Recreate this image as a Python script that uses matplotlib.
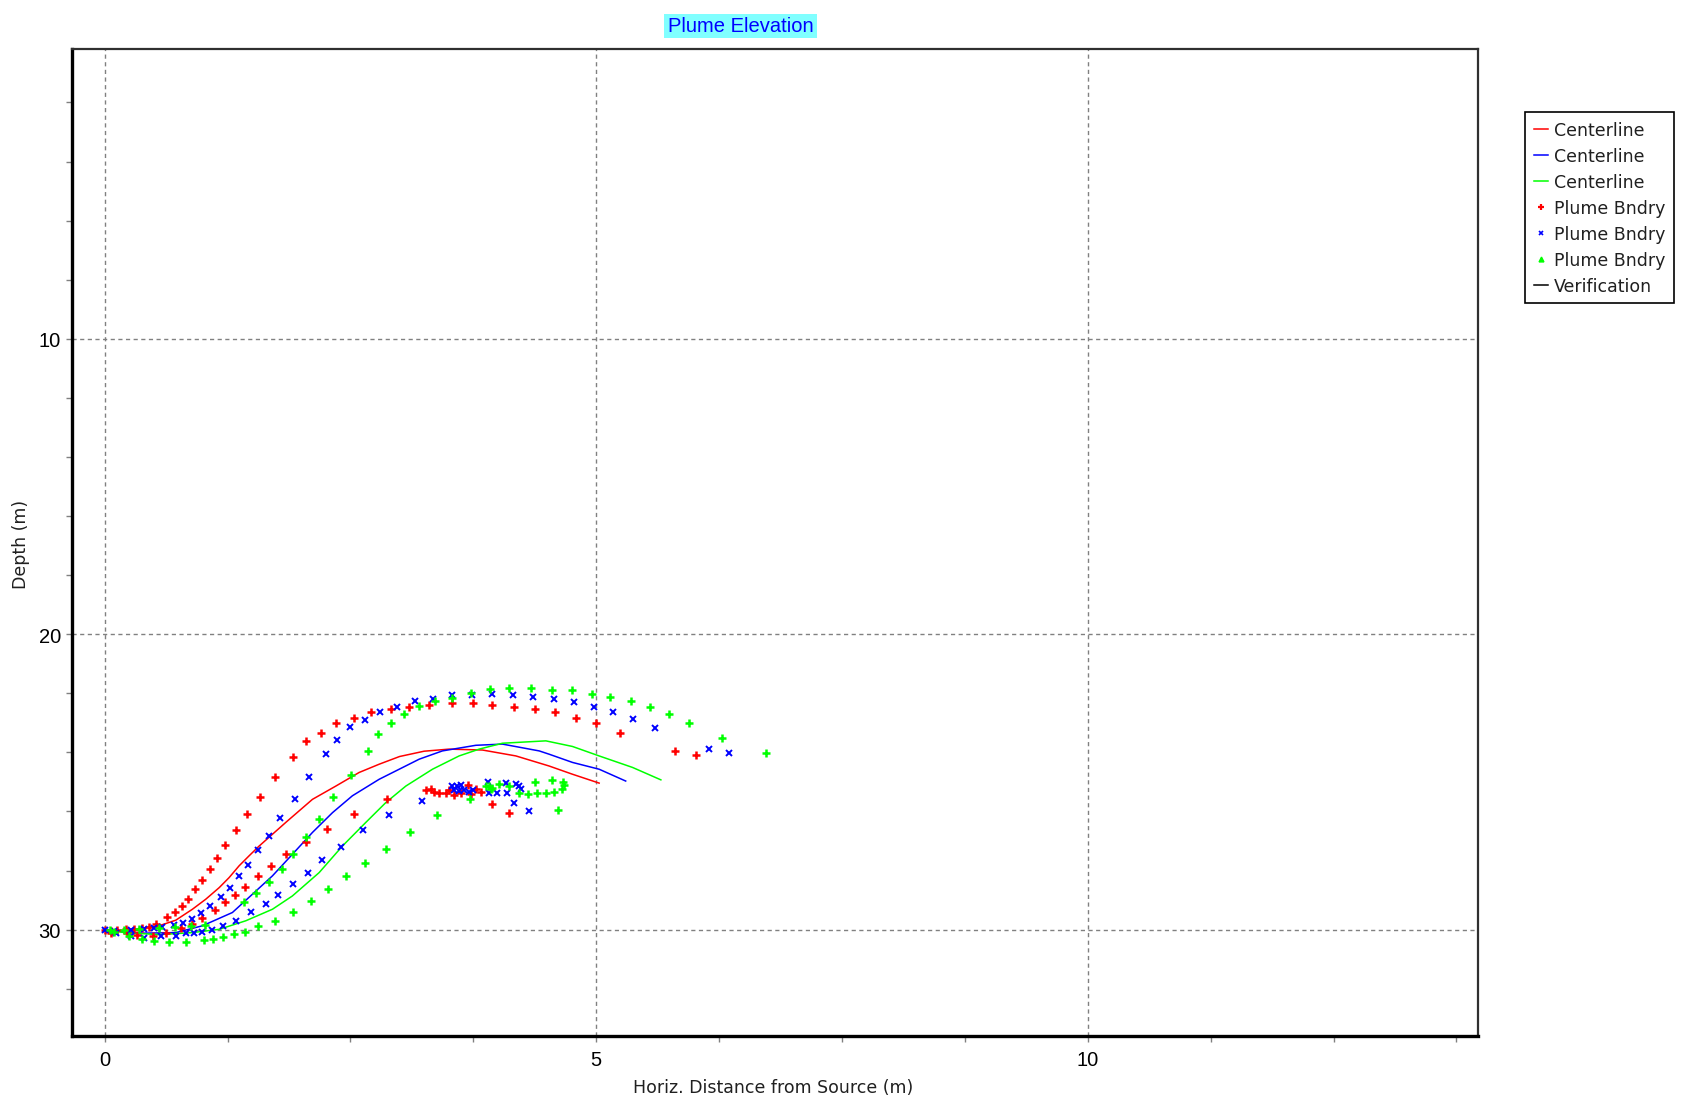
import matplotlib
matplotlib.use("Agg")
import matplotlib.pyplot as plt
from matplotlib.lines import Line2D
from matplotlib.patches import Rectangle
from matplotlib.ticker import MultipleLocator

plt.rcParams['font.family'] = ['DejaVu Sans']
NARROW = ['Liberation Sans Narrow', 'Liberation Sans', 'DejaVu Sans']

# ---- centerlines (horizontal distance m, depth m) ----
red_cl_x = [0.0, 0.15, 0.30, 0.385, 0.554, 0.724, 0.893, 1.029, 1.165, 1.266, 1.368, 1.470,
            1.572, 1.843, 2.114, 2.352, 2.589, 2.793, 3.0, 3.25, 3.504, 3.843, 4.183, 4.52,
            4.759, 5.03]
red_cl_y = [30.0, 30.04, 30.03, 29.96, 29.87, 29.68, 29.31, 28.97, 28.58, 28.24, 27.84, 27.50,
            27.17, 26.37, 25.59, 25.14, 24.68, 24.40, 24.14, 23.96, 23.89, 23.92, 24.12, 24.46,
            24.74, 25.04]

blue_cl_x = [0.0, 0.2, 0.385, 0.724, 0.995, 1.30, 1.504, 1.707, 1.91, 2.114, 2.318, 2.52,
             2.793, 3.2, 3.436, 3.776, 4.047, 4.42, 4.52, 4.759, 5.03, 5.30]
blue_cl_y = [30.0, 30.08, 30.12, 30.10, 29.87, 29.42, 28.80, 28.18, 27.45, 26.71, 26.04, 25.47,
             24.91, 24.23, 23.95, 23.76, 23.72, 23.95, 24.06, 24.34, 24.57, 24.97]

green_cl_x = [0.0, 0.2, 0.554, 0.893, 1.165, 1.436, 1.707, 1.91, 2.182, 2.419, 2.657, 2.86,
              3.064, 3.335, 3.606, 3.81, 4.047, 4.488, 4.759, 5.03, 5.37, 5.658]
green_cl_y = [30.0, 30.1, 30.17, 30.10, 29.99, 29.70, 29.31, 28.86, 28.07, 27.17, 26.37, 25.70,
              25.14, 24.57, 24.12, 23.89, 23.69, 23.61, 23.80, 24.12, 24.51, 24.93]

# ---- plume boundary points ----
red_bd_x = [0.0, 0.06, 0.13, 0.22, 0.30, 0.38, 0.45, 0.52, 0.639, 0.717, 0.792, 0.849, 0.921,
            0.995, 1.073, 1.148, 1.222, 1.334, 1.446, 1.578, 1.731, 1.917, 2.046, 2.199, 2.352,
            2.538, 2.708, 2.911, 3.098, 3.301, 3.532, 3.742, 3.945, 4.166, 4.379, 4.583, 4.793,
            5.0, 5.244, 5.804, 6.014,
            0.06, 0.23, 0.33, 0.49, 0.62, 0.78, 0.89, 0.995, 1.124, 1.222, 1.324, 1.426, 1.561,
            1.694, 1.846, 2.046, 2.257, 2.538, 2.877, 3.945, 4.115,
            3.267, 3.318, 3.352, 3.403, 3.471, 3.505, 3.555, 3.623, 3.701, 3.725, 3.776, 3.827]
red_bd_y = [30.0, 30.04, 30.02, 29.99, 29.99, 29.95, 29.90, 29.82, 29.57, 29.40, 29.20, 28.95, 28.63,
            28.32, 27.96, 27.58, 27.14, 26.64, 26.07, 25.51, 24.82, 24.14, 23.63, 23.33, 23.01,
            22.82, 22.63, 22.52, 22.46, 22.39, 22.33, 22.33, 22.39, 22.46, 22.52, 22.63, 22.82,
            23.01, 23.33, 23.95, 24.08,
            30.10, 30.13, 30.18, 30.21, 30.12, 29.95, 29.80, 29.59, 29.33, 29.08, 28.84, 28.54, 28.20,
            27.83, 27.45, 27.02, 26.58, 26.07, 25.59, 25.75, 26.06,
            25.27, 25.25, 25.34, 25.38, 25.36, 25.27, 25.44, 25.38, 25.11, 25.42, 25.25, 25.34]

blue_bd_x = [0.0, 0.10, 0.266, 0.402, 0.504, 0.588, 0.707, 0.798, 0.887, 0.978, 1.070, 1.182,
             1.277, 1.368, 1.463, 1.558, 1.673, 1.782, 1.934, 2.084, 2.253, 2.365, 2.497, 2.647,
             2.799, 2.969, 3.157, 3.345, 3.532, 3.735, 3.945, 4.154, 4.357, 4.566, 4.773, 4.980,
             5.166, 5.377, 5.600, 6.143, 6.353,
             0.12, 0.266, 0.402, 0.571, 0.724, 0.826, 0.91, 0.995, 1.090, 1.202, 1.334, 1.487,
             1.639, 1.768, 1.917, 2.070, 2.216, 2.406, 2.630, 2.894, 3.233, 4.169, 4.318,
             3.538, 3.589, 3.623, 3.555, 3.606, 3.657, 3.708, 3.742, 3.895, 3.911, 3.996, 4.081,
             4.088, 4.183, 4.217, 4.234]
blue_bd_y = [30.0, 30.03, 30.02, 29.99, 29.95, 29.91, 29.85, 29.76, 29.63, 29.44, 29.20, 28.88,
             28.58, 28.20, 27.82, 27.32, 26.83, 26.21, 25.59, 24.82, 24.06, 23.57, 23.14, 22.89,
             22.63, 22.45, 22.26, 22.20, 22.07, 22.07, 22.01, 22.07, 22.14, 22.20, 22.31, 22.45,
             22.63, 22.88, 23.19, 23.87, 24.01,
             30.10, 30.21, 30.27, 30.23, 30.23, 30.13, 30.10, 30.08, 30.01, 29.87, 29.70, 29.39,
             29.14, 28.84, 28.46, 28.08, 27.64, 27.20, 26.64, 26.13, 25.64, 25.70, 26.00,
             25.13, 25.13, 25.11, 25.27, 25.30, 25.27, 25.34, 25.27, 25.00, 25.36, 25.36, 25.02,
             25.38, 25.08, 25.13, 25.25]

green_bd_x = [0.05, 0.20, 0.35, 0.55, 0.72, 0.88, 1.019, 1.419, 1.538, 1.673, 1.802, 1.921,
              2.046, 2.182, 2.324, 2.504, 2.674, 2.782, 2.914, 3.047, 3.199, 3.365, 3.535, 3.725,
              3.925, 4.115, 4.340, 4.546, 4.752, 4.956, 5.143, 5.359, 5.546, 5.736, 5.939, 6.275,
              6.726,
              0.10, 0.25, 0.38, 0.503, 0.656, 0.826, 1.012, 1.107, 1.205, 1.317, 1.429, 1.561,
              1.731, 1.921, 2.104, 2.277, 2.460, 2.650, 2.860, 3.102, 3.384, 4.607,
              3.713, 3.878, 3.929, 4.007, 4.115, 4.217, 4.302, 4.396, 4.488, 4.566, 4.648, 4.675,
              4.658, 4.549, 4.376, 3.911, 3.945]
green_bd_y = [30.0, 30.0, 29.98, 29.95, 29.90, 29.86, 29.85, 29.08, 28.77, 28.38, 27.96, 27.45,
              26.88, 26.26, 25.51, 24.76, 23.95, 23.39, 23.01, 22.70, 22.44, 22.26, 22.15, 21.99,
              21.87, 21.81, 21.82, 21.88, 21.88, 22.01, 22.14, 22.26, 22.45, 22.69, 23.01, 23.51,
              24.02,
              30.08, 30.20, 30.30, 30.38, 30.41, 30.41, 30.35, 30.33, 30.25, 30.16, 30.07, 29.87,
              29.70, 29.39, 29.02, 28.63, 28.20, 27.76, 27.26, 26.69, 26.13, 25.95,
              25.57, 25.13, 25.25, 25.08, 25.13, 25.36, 25.42, 25.38, 25.38, 25.33, 25.25, 25.11,
              25.00, 24.93, 25.00, 25.13, 25.22]

x_major = [0, 5, 10]
y_major = [10, 20, 30]

RED, BLUE, GREEN = '#FF0000', '#0000FF', '#00FF00'

fig = plt.figure(figsize=(16.9, 11.039), dpi=100)
ax = fig.add_axes([0.0427, 0.0607, 0.8319, 0.8944])

ax.plot(red_cl_x, red_cl_y, color=RED, lw=1.1, zorder=3)
ax.plot(blue_cl_x, blue_cl_y, color=BLUE, lw=1.1, zorder=3)
ax.plot(green_cl_x, green_cl_y, color=GREEN, lw=1.1, zorder=3)

ax.plot(red_bd_x, red_bd_y, ls='none', marker='+', ms=5.5, mew=1.8, color=RED, zorder=4)
ax.plot(blue_bd_x, blue_bd_y, ls='none', marker='x', ms=4.5, mew=1.4, color=BLUE, zorder=4)
ax.plot(green_bd_x, green_bd_y, ls='none', marker='+', ms=5.5, mew=1.8, color=GREEN, zorder=4)

ax.set_xlim(-0.33, 13.97)
ax.set_ylim(33.6, 0.18)

ax.set_xticks(x_major)
ax.set_yticks(y_major)
ax.xaxis.set_minor_locator(MultipleLocator(1.25))
ax.yaxis.set_minor_locator(MultipleLocator(2))
ax.tick_params(which='both', direction='out', color='#808080', width=1, length=4.5,
               labelcolor='black')
ax.tick_params(axis='x', which='major', pad=6)
ax.tick_params(axis='y', which='major', pad=3.5)
for lbl in ax.get_xticklabels() + ax.get_yticklabels():
    lbl.set_family(NARROW)
    lbl.set_fontsize(14.5)

ax.grid(True, which='major', color='#808080', lw=1, ls=(0, (3, 2.5)))
ax.set_axisbelow(True)

for side in ('left', 'bottom'):
    ax.spines[side].set_linewidth(2.4)
    ax.spines[side].set_color('black')
for side in ('top', 'right'):
    ax.spines[side].set_linewidth(1.6)
    ax.spines[side].set_color('#303030')

# title with its cyan highlight box
fig.patches.append(Rectangle((0.3929, 0.9647), 0.0905, 0.0217, transform=fig.transFigure,
                             facecolor='#80FFFF', edgecolor='none', zorder=0))
fig.text(0.4382, 0.9757, 'Plume Elevation', ha='center', va='center', fontsize=14.5,
         family=NARROW, color='#0000FF')
fig.text(0.4574, 0.0148, 'Horiz. Distance from Source (m)', ha='center', va='center',
         fontsize=12.5, color='#202020')
fig.text(0.0127, 0.5072, 'Depth (m)', ha='center', va='center', rotation=90,
         fontsize=12.5, color='#202020')

handles = [
    Line2D([], [], color=RED, lw=1.1),
    Line2D([], [], color=BLUE, lw=1.1),
    Line2D([], [], color=GREEN, lw=1.1),
    Line2D([], [], ls='none', marker='+', ms=4, mew=1.6, color=RED),
    Line2D([], [], ls='none', marker='x', ms=3.5, mew=1.2, color=BLUE),
    Line2D([], [], ls='none', marker='^', ms=3.5, color=GREEN),
    Line2D([], [], color='black', lw=1.1),
]
labels = ['Centerline', 'Centerline', 'Centerline', 'Plume Bndry', 'Plume Bndry',
          'Plume Bndry', 'Verification']
leg = fig.legend(handles, labels, loc='upper left', bbox_to_anchor=(0.9024, 0.8977),
                 borderaxespad=0, fontsize=12.5, handlelength=0.8, handletextpad=0.35,
                 labelspacing=0.46, borderpad=0.5, fancybox=False, framealpha=1,
                 edgecolor='black')
leg.get_frame().set_linewidth(1.2)
for t in leg.get_texts():
    t.set_color('#202020')

fig.savefig('out.png', dpi=100)
